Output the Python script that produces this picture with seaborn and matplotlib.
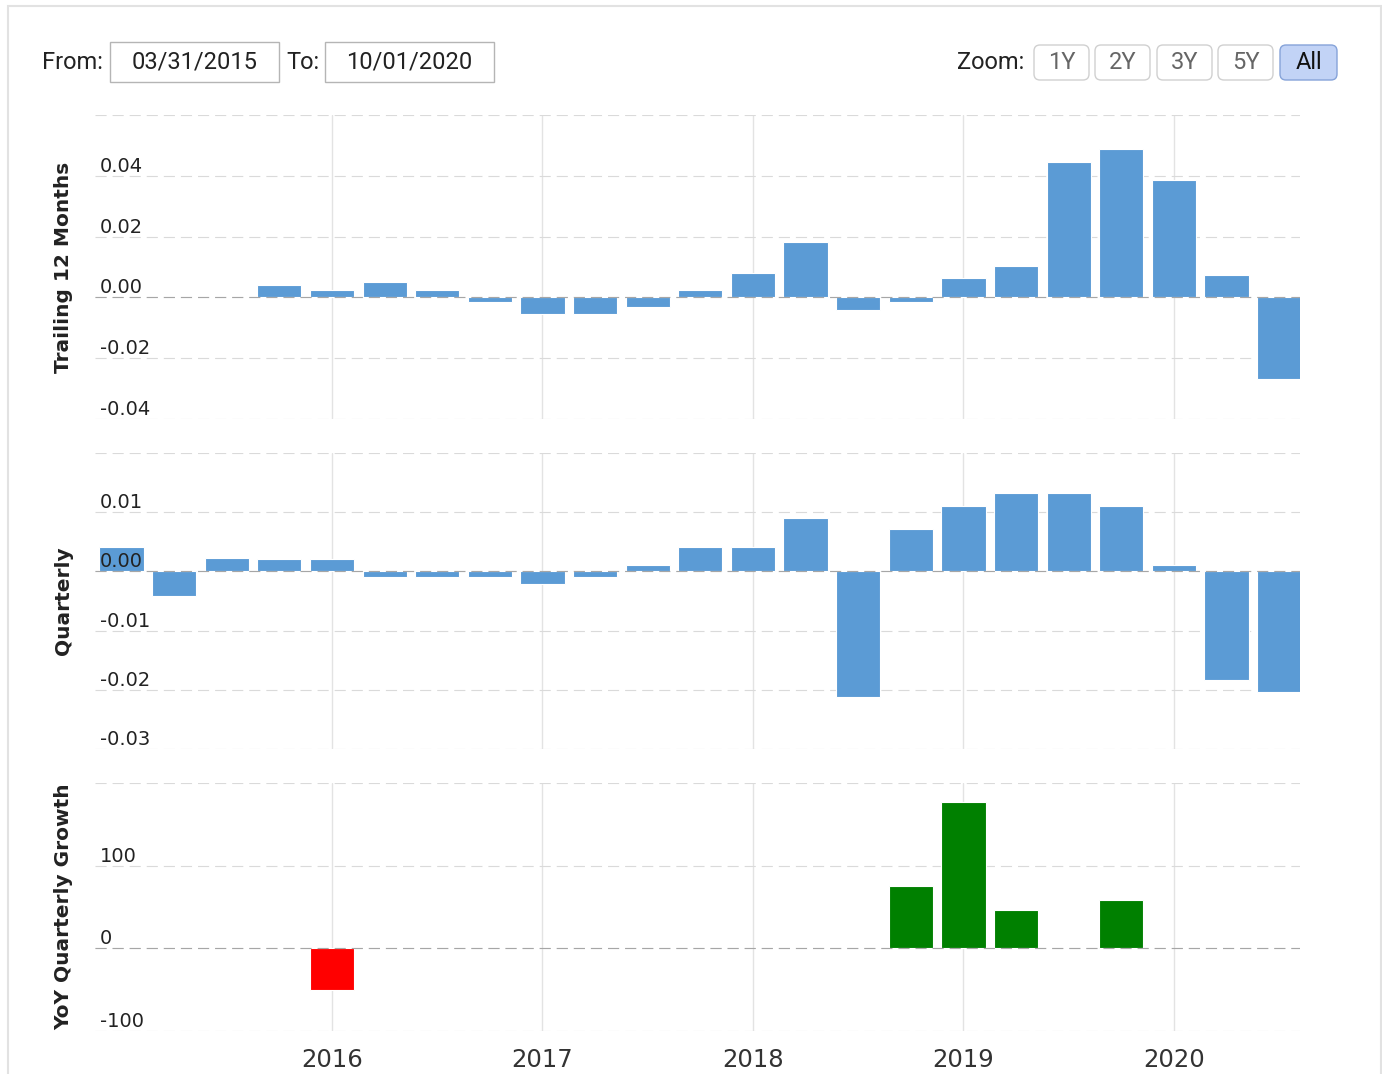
import matplotlib
matplotlib.use("Agg")
import matplotlib.pyplot as plt
from matplotlib.patches import FancyBboxPatch, Rectangle
import numpy as np
import pandas as pd
import seaborn as sns

# quarter positions (decimal year) and the three series
quarters = [2015.0, 2015.25, 2015.5, 2015.75,
            2016.0, 2016.25, 2016.5, 2016.75,
            2017.0, 2017.25, 2017.5, 2017.75,
            2018.0, 2018.25, 2018.5, 2018.75,
            2019.0, 2019.25, 2019.5, 2019.75,
            2020.0, 2020.25, 2020.5]
ttm_values = [np.nan, np.nan, np.nan, 0.0041,
              0.0024, 0.0052, 0.0024, -0.0014,
              -0.0054, -0.0054, -0.0031, 0.0024,
              0.0081, 0.0182, -0.0040, -0.0014,
              0.0064, 0.0102, 0.0447, 0.0487,
              0.0385, 0.0075, -0.0267]
quarterly_values = [0.0042, -0.0041, 0.0022, 0.0021,
                    0.0021, -0.0010, -0.0010, -0.0010,
                    -0.0021, -0.0010, 0.0010, 0.0042,
                    0.0042, 0.0091, -0.0212, 0.0071,
                    0.0111, 0.0132, 0.0132, 0.0111,
                    0.0010, -0.0184, -0.0203]
yoy_values = [np.nan, np.nan, np.nan, np.nan,
              -51, np.nan, np.nan, np.nan,
              np.nan, np.nan, np.nan, np.nan,
              np.nan, np.nan, np.nan, 75,
              177, 46, np.nan, 59,
              np.nan, np.nan, np.nan]

year_ticks = [2016, 2017, 2018, 2019, 2020]
ttm_grid = [-0.04, -0.02, 0.0, 0.02, 0.04, 0.06]
ttm_labels = {0.04: "0.04", 0.02: "0.02", 0.0: "0.00", -0.02: "-0.02", -0.04: "-0.04"}
quarterly_grid = [-0.03, -0.02, -0.01, 0.0, 0.01, 0.02]
quarterly_labels = {0.01: "0.01", 0.0: "0.00", -0.01: "-0.01", -0.02: "-0.02", -0.03: "-0.03"}
yoy_grid = [-100, 0, 100, 200]
yoy_labels = {100: "100", 0: "0", -100: "-100"}

from_date = "03/31/2015"
to_date = "10/01/2020"
zoom_buttons = ["1Y", "2Y", "3Y", "5Y", "All"]

BLUE = "#5b9bd5"
GREEN = "#008000"
RED = "#ff0000"

sns.set_style("white")
plt.rcParams["font.family"] = ["DejaVu Sans"]
plt.rcParams["lines.scale_dashes"] = False

W, H = 1382, 1074
fig = plt.figure(figsize=(W / 100, H / 100), dpi=100)
inch = fig.dpi_scale_trans


def px_box(x0, y0, x1, y1):
    # pixel box (top-left origin) -> axes rect in figure fraction
    return [x0 / W, 1 - y1 / H, (x1 - x0) / W, (y1 - y0) / H]


ax_ttm = fig.add_axes(px_box(95, 115, 1300, 419))
ax_q = fig.add_axes(px_box(95, 453, 1300, 749))
ax_yoy = fig.add_axes(px_box(95, 783, 1300, 1031))

frame = pd.DataFrame({"quarter": quarters, "ttm": ttm_values,
                      "quarterly": quarterly_values, "yoy": yoy_values})

bar_kw = dict(native_scale=True, width=0.84, errorbar=None, saturation=1,
              edgecolor="white", linewidth=0.8, zorder=2)

sns.barplot(data=frame.dropna(subset=["ttm"]), x="quarter", y="ttm",
            color=BLUE, ax=ax_ttm, **bar_kw)
sns.barplot(data=frame.dropna(subset=["quarterly"]), x="quarter", y="quarterly",
            color=BLUE, ax=ax_q, **bar_kw)
yoy = frame.dropna(subset=["yoy"]).copy()
yoy["direction"] = np.where(yoy["yoy"] >= 0, "up", "down")
sns.barplot(data=yoy, x="quarter", y="yoy", hue="direction",
            palette={"up": GREEN, "down": RED}, dodge=False, legend=False,
            ax=ax_yoy, **bar_kw)

panels = [
    (ax_ttm, ttm_grid, ttm_labels, "Trailing 12 Months"),
    (ax_q, quarterly_grid, quarterly_labels, "Quarterly"),
    (ax_yoy, yoy_grid, yoy_labels, "YoY Quarterly Growth"),
]
dash = (0, (8, 4.3))
for ax, grid, labels, title in panels:
    ax.set_xlim(2014.874, 2020.599)
    ax.set_ylim(grid[0], grid[-1])
    ax.set_yticks(grid)
    ax.set_xticks(year_ticks)
    ax.set_xticklabels([str(y) for y in year_ticks])
    ax.tick_params(axis="y", left=False, labelleft=False)
    ax.tick_params(axis="x", bottom=False, length=0, pad=12.5,
                   labelsize=17.5, labelcolor="#333333")
    ax.grid(axis="x", color="#e3e3e3", linestyle="-", linewidth=1)
    ax.grid(axis="y", color="#dadada", linestyle=dash, linewidth=0.8)
    ax.set_axisbelow(True)
    ax.axhline(0, color="#a6a6a6", linestyle=dash, linewidth=0.8, zorder=3)
    for spine in ax.spines.values():
        spine.set_visible(False)
    for value, text in labels.items():
        ax.text(0.004, value, text, transform=ax.get_yaxis_transform(),
                ha="left", va="bottom", fontsize=14, color="#222222", zorder=5)
    ax.set_xlabel("")
    ax.set_ylabel(title, fontsize=14.5, fontweight="bold", color="#222222")
    ax.yaxis.set_label_coords(-0.018, 0.5)

ax_ttm.tick_params(axis="x", labelbottom=False)
ax_q.tick_params(axis="x", labelbottom=False)

# outer frame of the widget
fig.patches.append(Rectangle((8 / 100, (H - 1100) / 100), (1381 - 8) / 100, (1100 - 6) / 100,
                             transform=inch, fill=False, edgecolor="#e2e2e2", linewidth=1.5))

# date range inputs
hdr_font = dict(family=["Roboto", "DejaVu Sans"], fontsize=17, va="center")
yc = (H - 62) / 100
fig.text(42 / 100, yc, "From:", transform=inch, ha="left", color="#222222", **hdr_font)
fig.text(286 / 100, yc, "To:", transform=inch, ha="left", color="#222222", **hdr_font)
for (x0, x1), text in [((110, 279), from_date), ((325, 494), to_date)]:
    fig.patches.append(Rectangle((x0 / 100, (H - 82) / 100), (x1 - x0) / 100, 0.40,
                                 transform=inch, fill=False, edgecolor="#b5b5b5", linewidth=1))
    fig.text((x0 + x1) / 200, yc, text, transform=inch, ha="center", color="#222222", **hdr_font)

# zoom buttons
fig.text(957 / 100, yc, "Zoom:", transform=inch, ha="left", color="#222222", **hdr_font)
button_x = [1034, 1095, 1157, 1218, 1280]
button_w = [55, 55, 55, 55, 57]
for x0, bw, label in zip(button_x, button_w, zoom_buttons):
    active = label == "All"
    fig.patches.append(FancyBboxPatch((x0 / 100, (H - 80) / 100), bw / 100, 0.35,
                                      boxstyle="round,pad=0,rounding_size=0.06",
                                      transform=inch,
                                      facecolor="#c2d3f6" if active else "white",
                                      edgecolor="#86a3d9" if active else "#d0d0d0",
                                      linewidth=1))
    fig.text((x0 + bw / 2) / 100, yc, label, transform=inch, ha="center",
             color="#111111" if active else "#666666", **hdr_font)

fig.savefig("out.png", dpi=100)
plt.close(fig)
